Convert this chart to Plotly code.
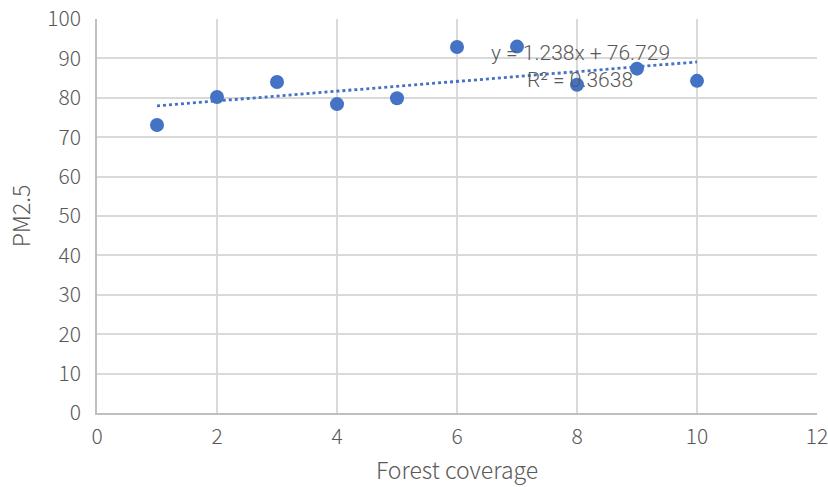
import plotly.graph_objects as go

forest_coverage = [1, 2, 3, 4, 5, 6, 7, 8, 9, 10]
pm25 = [73.1, 80.2, 84.0, 78.4, 79.9, 92.9, 93.0, 83.3, 87.4, 84.3]

slope = 1.238
intercept = 76.729
r_squared = 0.3638

trend_x = [forest_coverage[0], forest_coverage[-1]]
trend_y = [slope * x + intercept for x in trend_x]

blue = "#4472C4"
grey_text = "#595959"
font_family = "Noto Sans CJK SC, Noto Sans, sans-serif"

fig = go.Figure()
fig.add_trace(go.Scatter(
    x=trend_x, y=trend_y, mode="lines",
    line=dict(color=blue, width=2.8, dash="dot"),
    hoverinfo="skip", showlegend=False,
))
fig.add_trace(go.Scatter(
    x=forest_coverage, y=pm25, mode="markers",
    marker=dict(color=blue, size=14),
    showlegend=False,
))

# Trendline equation and R²
eq_font = dict(family="Roboto, sans-serif", size=21, color=grey_text, weight=300)
fig.add_annotation(
    x=8.05, y=91.3, xref="x", yref="y", showarrow=False,
    text=f"y = {slope}x + {intercept}", font=eq_font,
)
fig.add_annotation(
    x=8.05, y=84.6, xref="x", yref="y", showarrow=False,
    text=f"R² = {r_squared}", font=eq_font,
)

tick_font = dict(family=font_family, size=21, color=grey_text, weight=300)
title_font = dict(family=font_family, size=23, color=grey_text, weight=300)

fig.update_layout(
    width=828, height=487,
    margin=dict(l=97, r=11, t=19, b=74),
    paper_bgcolor="white", plot_bgcolor="white",
    font=dict(family=font_family, size=21, color=grey_text),
    xaxis=dict(
        range=[0, 12], tickmode="linear", tick0=0, dtick=2,
        showgrid=True, gridcolor="#D9D9D9", gridwidth=1.5,
        showline=True, linecolor="#BFBFBF", linewidth=1.5,
        zeroline=False, ticks="", ticklen=0, automargin=False,
        tickfont=tick_font, ticklabelstandoff=4, ticklabeloverflow="allow",
        title=dict(text="Forest coverage", standoff=14, font=title_font),
    ),
    yaxis=dict(
        range=[0, 100], tickmode="linear", tick0=0, dtick=10,
        showgrid=True, gridcolor="#D9D9D9", gridwidth=1.5,
        showline=True, linecolor="#BFBFBF", linewidth=1.5,
        zeroline=False, ticks="", ticklen=0, automargin=False,
        tickfont=tick_font, ticklabelstandoff=10, ticklabeloverflow="allow",
        title=dict(text="PM2.5", standoff=10, font=title_font),
    ),
)

fig.write_html("out.html")
